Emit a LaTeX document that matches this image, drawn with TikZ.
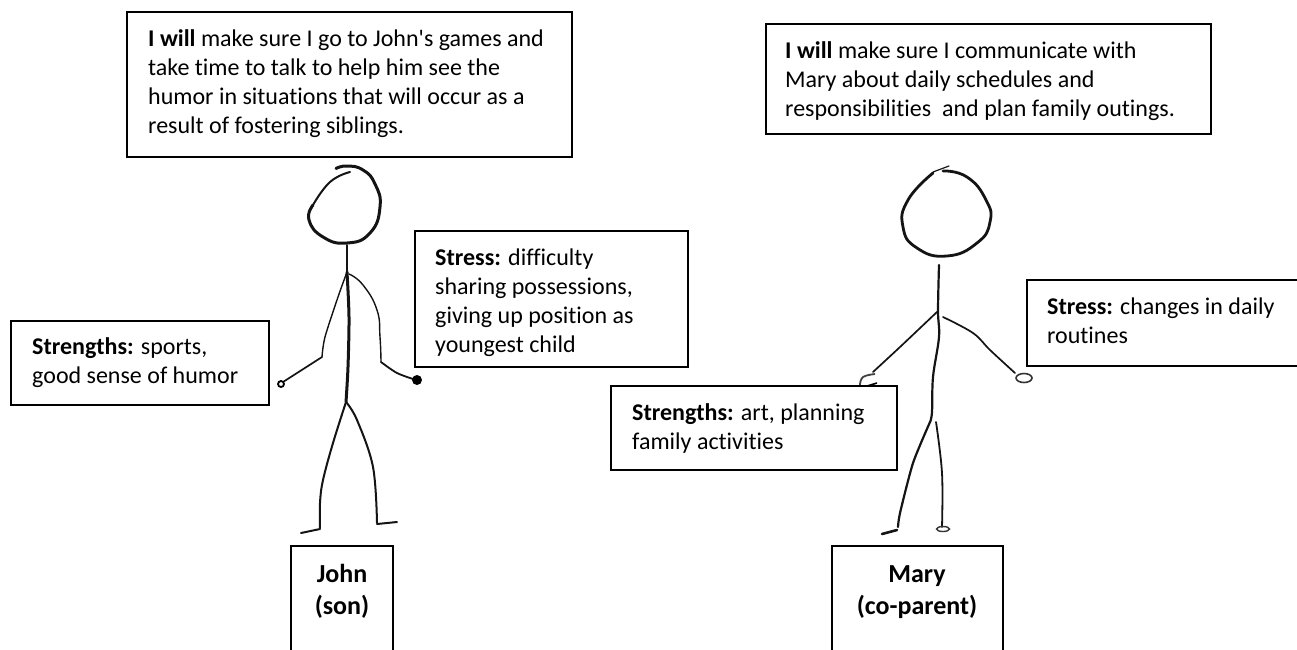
\documentclass[tikz,border=0pt]{standalone}
\usepackage{fontspec}
\setmainfont{Carlito}[Ligatures={TeXOff,CommonOff}]
\newcommand{\fl}{\rule{0pt}{20pt}}
\tikzset{
  note/.style={draw=black,line width=2pt,fill=white},
  txt/.style={anchor=north west,inner sep=0pt,font=\fontsize{24pt}{29.2pt}\selectfont,align=left},
  nm/.style={anchor=north,inner sep=0pt,font=\fontsize{26pt}{32.5pt}\selectfont\bfseries,align=center},
  ink/.style={draw=black!92,line cap=round,line join=round},
  thick1/.style={ink,line width=3pt},
  mid1/.style={ink,line width=2pt},
  thin1/.style={ink,line width=1.4pt},
}
\begin{document}
\begin{tikzpicture}[x=1pt,y=-1pt]
\useasboundingbox (0,0) rectangle (1297,649);
% John figure
\draw[thick1] plot[smooth,tension=0.85] coordinates {(336,168.5) (347,166) (363,170) (375,184) (380,207) (370,233) (347,243) (323,237) (309,220) (313,205)};
\draw[mid1] plot[smooth,tension=0.8] coordinates {(313,205) (330,182) (350,172)};
\coordinate (jn) at (347,245);
\coordinate (js) at (347,272);
\coordinate (jh) at (346,402);
\draw[thin1] (jn) -- (js);
\draw[thick1] plot[smooth] coordinates {(js) (349,317) (348,367) (jh)};
\draw[thin1] plot[smooth,tension=0.5] coordinates {(js) (338,297) (325,337) (322,357)};
\draw[thin1,line width=1.7pt] (322,357) -- (283,382);
\draw[thin1] plot[smooth,tension=0.8] coordinates {(349,274) (363,285) (377,310) (380,337) (381,362)};
\draw[thin1,line width=1.8pt] plot[smooth,tension=0.5] coordinates {(381,362) (397,373) (416,380)};
\draw[black,line width=1.8pt] (281,384) circle (3pt);
\fill[black] (417,380) circle (5pt);
\draw[mid1] plot[smooth,tension=0.6] coordinates {(jh) (333,443) (323,480) (320,503) (320,528)};
\draw[mid1] (320,529) -- (301,533);
\draw[mid1] plot[smooth,tension=0.6] coordinates {(jh) (357,420) (373,467) (377,523)};
\draw[mid1] (377,524) -- (397,522);
% Mary figure
\draw[thin1,line width=1.2pt] (933,172) -- (949,166);
\draw[thick1,line width=2.8pt] plot[smooth,tension=0.85] coordinates {(943,171) (967,177) (986,200) (990,222) (977,243) (947,256) (917,248) (903,227) (908,200) (933,173)};
\coordinate (mn) at (939,265);
\coordinate (ms) at (938,311);
\coordinate (mh) at (930,422);
\draw[mid1,line width=2.2pt] plot[smooth,tension=0.6] coordinates {(mn) (ms) (939,337) (933,377) (932,412) (mh)};
\draw[thin1,line width=1.7pt] plot[smooth,tension=0.4] coordinates {(ms) (900,347) (873,372)};
\draw[thin1,line width=1.7pt] plot[smooth,tension=0.6] coordinates {(943,317) (973,333) (990,350) (1015,373)};
\draw[black!75,line width=1.8pt] plot[smooth,tension=0.7] coordinates {(875,374) (863,377) (860,385)};
\draw[black,line width=1.6pt] (867,386) -- (877,383);
\draw[black!80,line width=1.6pt] (1024,378) ellipse (8pt and 4.5pt);
\draw[mid1,line width=2.2pt] plot[smooth,tension=0.4] coordinates {(mh) (913,463) (900,513) (898,527)};
\draw[mid1,line width=2.6pt] (897,530) -- (882,534);
\draw[mid1,line width=1.8pt] plot[smooth,tension=0.6] coordinates {(936,422) (942,473) (942,527)};
\draw[black!80,line width=1.4pt] (943,529) ellipse (6.5pt and 2.5pt);
% boxes
\draw[note] (127,12) rectangle (572,157);
\node[txt] (a) at (148,26) {\fl\textbf{I will} make sure I go to John's games and\\take time to talk to help him see the\\humor in situations that will occur as a\\result of fostering siblings.};
\draw[note] (415,231) rectangle (688,367);
\node[txt] (b) at (435,245) {\fl\textbf{Stress:} difficulty\\sharing possessions,\\giving up position as\\youngest child};
\draw[note] (11,321) rectangle (269,405);
\node[txt] (c) at (32,334) {\fl\textbf{Strengths:} sports,\\good sense of humor};
\draw[note] (291,665) -- (291,546) -- (393,546) -- (393,665);
\node[nm] (d) at (342,561) {\rule{0pt}{21pt}John\\(son)};
\draw[note] (766,24) rectangle (1211,134);
\node[txt] (e) at (785,38) {\fl\textbf{I will} make sure I communicate with\\Mary about daily schedules and\\responsibilities\ \ and plan family outings.};
\draw[note] (1305,280) -- (1027,280) -- (1027,366) -- (1305,366);
\node[txt] (f) at (1047,294) {\fl\textbf{Stress:} changes in daily\\routines};
\draw[note] (611,386) rectangle (897,470);
\node[txt] (g) at (632,400) {\fl\textbf{Strengths:} art, planning\\family activities};
\draw[note] (832,665) -- (832,546) -- (1003,546) -- (1003,665);
\node[nm] (h) at (917,561) {\rule{0pt}{21pt}Mary\\(co-parent)};
\end{tikzpicture}
\end{document}
